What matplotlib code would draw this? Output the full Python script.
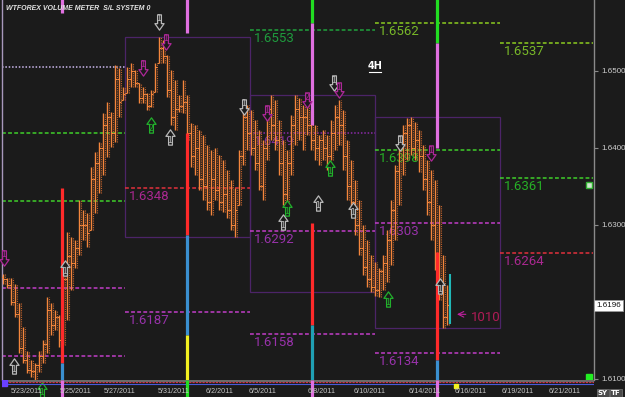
import numpy as np
import matplotlib
matplotlib.use("Agg")
import matplotlib.pyplot as plt
from matplotlib.path import Path
from matplotlib.patches import Rectangle
from matplotlib.transforms import blended_transform_factory


# 4H bars (x = bar index)
bar_hi = [1.6237, 1.6231, 1.6231, 1.6224, 1.6199, 1.6167, 1.6137, 1.6125, 1.6121, 1.6137,
          1.6150, 1.6206, 1.6199, 1.6189, 1.6183, 1.6237, 1.6291, 1.6284, 1.6280, 1.6332,
          1.6319, 1.6315, 1.6375, 1.6395, 1.6408, 1.6445, 1.6460, 1.6447, 1.6508, 1.6504,
          1.6479, 1.6505, 1.6510, 1.6501, 1.6484, 1.6479, 1.6471, 1.6475, 1.6510, 1.6544,
          1.6540, 1.6521, 1.6501, 1.6488, 1.6469, 1.6488, 1.6469, 1.6432, 1.6430, 1.6423,
          1.6417, 1.6404, 1.6397, 1.6400, 1.6391, 1.6384, 1.6371, 1.6358, 1.6348, 1.6397,
          1.6462, 1.6456, 1.6449, 1.6436, 1.6423, 1.6410, 1.6456, 1.6469, 1.6462, 1.6436,
          1.6410, 1.6397, 1.6443, 1.6469, 1.6465, 1.6456, 1.6462, 1.6449, 1.6430, 1.6417,
          1.6423, 1.6417, 1.6436, 1.6456, 1.6462, 1.6449, 1.6410, 1.6384, 1.6358, 1.6332,
          1.6300, 1.6280, 1.6261, 1.6252, 1.6244, 1.6261, 1.6293, 1.6332, 1.6378, 1.6410,
          1.6430, 1.6439, 1.6440, 1.6434, 1.6423, 1.6404, 1.6384, 1.6371, 1.6358, 1.6326,
          1.6261, 1.6222]
bar_lo = [1.6224, 1.6218, 1.6196, 1.6180, 1.6134, 1.6121, 1.6108, 1.6102, 1.6098, 1.6109,
          1.6121, 1.6134, 1.6157, 1.6163, 1.6141, 1.6144, 1.6176, 1.6215, 1.6244, 1.6261,
          1.6280, 1.6271, 1.6293, 1.6315, 1.6341, 1.6365, 1.6388, 1.6401, 1.6408, 1.6440,
          1.6462, 1.6471, 1.6479, 1.6479, 1.6458, 1.6458, 1.6449, 1.6453, 1.6473, 1.6510,
          1.6510, 1.6466, 1.6430, 1.6423, 1.6447, 1.6445, 1.6410, 1.6375, 1.6365, 1.6345,
          1.6332, 1.6319, 1.6313, 1.6332, 1.6319, 1.6317, 1.6309, 1.6293, 1.6284, 1.6326,
          1.6378, 1.6397, 1.6391, 1.6371, 1.6345, 1.6332, 1.6384, 1.6410, 1.6397, 1.6365,
          1.6326, 1.6315, 1.6365, 1.6404, 1.6410, 1.6397, 1.6417, 1.6397, 1.6384, 1.6378,
          1.6384, 1.6371, 1.6384, 1.6397, 1.6404, 1.6371, 1.6332, 1.6313, 1.6287, 1.6261,
          1.6235, 1.6219, 1.6213, 1.6208, 1.6206, 1.6215, 1.6226, 1.6248, 1.6280, 1.6326,
          1.6365, 1.6384, 1.6391, 1.6384, 1.6369, 1.6345, 1.6313, 1.6280, 1.6241, 1.6202,
          1.6166, 1.6170]
bar_close = [1.6230, 1.6222, 1.6200, 1.6185, 1.6140, 1.6125, 1.6112, 1.6110, 1.6118, 1.6130,
             1.6145, 1.6190, 1.6170, 1.6180, 1.6150, 1.6230, 1.6260, 1.6250, 1.6270, 1.6300,
             1.6300, 1.6290, 1.6360, 1.6380, 1.6400, 1.6430, 1.6440, 1.6420, 1.6490, 1.6460,
             1.6470, 1.6490, 1.6500, 1.6485, 1.6465, 1.6470, 1.6455, 1.6470, 1.6505, 1.6530,
             1.6520, 1.6475, 1.6440, 1.6450, 1.6455, 1.6460, 1.6420, 1.6390, 1.6400, 1.6360,
             1.6350, 1.6330, 1.6360, 1.6345, 1.6330, 1.6340, 1.6320, 1.6300, 1.6320, 1.6390,
             1.6440, 1.6420, 1.6400, 1.6380, 1.6350, 1.6400, 1.6450, 1.6430, 1.6410, 1.6380,
             1.6340, 1.6380, 1.6430, 1.6450, 1.6440, 1.6440, 1.6430, 1.6410, 1.6400, 1.6410,
             1.6400, 1.6390, 1.6420, 1.6440, 1.6430, 1.6390, 1.6350, 1.6330, 1.6300, 1.6270,
             1.6245, 1.6230, 1.6220, 1.6215, 1.6240, 1.6250, 1.6280, 1.6320, 1.6370, 1.6400,
             1.6420, 1.6430, 1.6400, 1.6410, 1.6390, 1.6360, 1.6330, 1.6300, 1.6260, 1.6220,
             1.6180, 1.6196]
first_open = 1.6233
last_price = 1.6196

# session boxes and level segments (bar-index units)
session_edges = [30.5, 61.75, 93.0, 124.25]
seg_edges = [-0.25, 30.5, 61.75, 93.0, 124.25, 147.5]

level_seg = [0, 0, 0, 0, 0, 1, 1, 2, 2, 2, 2, 3, 3, 3, 3, 4, 4, 4]
level_val = [1.6505, 1.6419, 1.6331, 1.6218, 1.6130,
             1.6348, 1.6187,
             1.6553, 1.6419, 1.6292, 1.6158,
             1.6562, 1.6398, 1.6303, 1.6134,
             1.6537, 1.6361, 1.6264]
level_kind = ["lav", "green", "green", "mag", "mag",
              "red", "mag",
              "dkgreen", "purple", "mag", "mag",
              "lime", "green", "mag", "mag",
              "lime", "green", "red"]
level_show = [False] * 5 + [True] * 13

# volume meter columns
ind_x = [14.75, 14.75, 14.75,
         46.0, 46.0, 46.0, 46.0,
         77.25, 77.25, 77.25, 77.25,
         108.5, 108.5, 108.5, 108.5]
ind_top = [1.6600, 1.6348, 1.6121,
           1.6600, 1.6419, 1.6287, 1.6157,
           1.6600, 1.6562, 1.6303, 1.6170,
           1.6600, 1.6537, 1.6265, 1.6125]
ind_bot = [1.6575, 1.6121, 1.6090,
           1.6549, 1.6287, 1.6157, 1.6090,
           1.6562, 1.6430, 1.6170, 1.6090,
           1.6537, 1.6400, 1.6125, 1.6090]
ind_kind = ["pink", "red", "blue",
            "pink", "red", "blue", "yellow",
            "green", "pink", "red", "teal",
            "green", "pink", "red", "blue"]
strip_x = [14.75, 46.0, 77.25, 108.5]
strip_kind = ["pink", "green", "pink", "pink"]

# signal arrows
arrow_x = [39, 40.75, 35, 37, 41.75, 60.25, 66, 76, 82.75, 84, 81.75, 71, 70, 78.75,
           87.5, 99.25, 107, 96.25, 109.25, 2.75, 9.75, 15.5, 0.25]
arrow_p = [1.6564, 1.6538, 1.6504, 1.6430, 1.6414, 1.6453, 1.6445, 1.6462, 1.6484, 1.6475,
           1.6374, 1.6322, 1.6304, 1.6329, 1.6320, 1.6406, 1.6393, 1.6204, 1.6221, 1.6117,
           1.6086, 1.6244, 1.6257]
arrow_dir = ["d", "d", "d", "u", "u", "d", "d", "d", "d", "d", "u", "u", "u", "u",
             "u", "d", "d", "u", "u", "u", "u", "u", "d"]
arrow_kind = ["gray", "mag", "mag", "green", "gray", "gray", "mag", "mag", "gray", "mag",
              "green", "green", "gray", "gray", "gray", "gray", "mag", "green", "gray", "gray",
              "green", "gray", "mag"]
arrow_num = ["1", "1", "1", "2", "1", "1", "1", "2", "1", "1", "1", "1", "1", "1",
             "1", "1", "1", "1", "1", "1", "1", "1", "1"]

date_x = [6, 18.25, 29.25, 42.75, 54.25, 65, 79.75, 91.75, 105.5, 117, 128.75, 140.5]
date_lbl = ["5/23/2011", "5/25/2011", "5/27/2011", "5/31/2011", "6/2/2011", "6/5/2011",
            "6/8/2011", "6/10/2011", "6/14/2011", "6/16/2011", "6/19/2011", "6/21/2011"]
price_ticks = [1.6100, 1.6300, 1.6400, 1.6500]

volume_tag = "1010"
tag_x = 117.0
tag_p = 1.6180
cyan_x = 111.75
cyan_range = [1.6171, 1.6237]

BG = "#1b1b1b"
ORANGE = "#f4863c"
ORANGE_DK = "#c0622c"
LINE_COL = {"lav": "#cbb8ee", "green": "#3fcf2a", "dkgreen": "#1fa23c", "lime": "#8ccc20",
            "red": "#e2303c", "mag": "#c23ec8", "purple": "#8a2aa8"}
LABEL_COL = {"lav": "#cbb8ee", "green": "#26b026", "dkgreen": "#1f9c3e", "lime": "#78b828",
             "red": "#aa2890", "mag": "#9832aa", "purple": "#82309a"}
IND_COL = {"pink": "#e070e0", "red": "#ff2a2a", "blue": "#3a8fd0", "yellow": "#f2f020",
           "green": "#22dd22", "teal": "#20a0b4"}
ARROW_COL = {"gray": "#b8b8b8", "mag": "#ad2898", "green": "#22b02c"}

W, H = 625, 397
fig = plt.figure(figsize=(W / 100, H / 100), dpi=100, facecolor=BG)
ax = fig.add_axes([2 / W, 17 / H, 592 / W, 380 / H], facecolor=BG)
ax.set_xlim(-0.25, 147.75)
ax.set_ylim(1.60987, 1.65922)

# bars
x = np.arange(len(bar_hi))
hi = np.array(bar_hi)
lo = np.array(bar_lo)
cl = np.array(bar_close)
op = np.clip(np.r_[first_open, cl[:-1]], lo, hi)
ax.vlines(x + 0.45, lo, hi, color=ORANGE_DK, lw=0.8, linestyles=(0, (1, 1)), zorder=3)
ax.vlines(x, lo, hi, color=ORANGE, lw=1.0, zorder=4)
ax.hlines(op, x - 0.45, x, color=ORANGE, lw=0.8, zorder=4)
ax.hlines(cl, x, x + 0.45, color=ORANGE, lw=0.8, zorder=4)

# session boxes from session high/low
for a, b in zip(session_edges[:-1], session_edges[1:]):
    m = (x > a) & (x < b)
    bh, bl = hi[m].max(), lo[m].min()
    ax.add_patch(Rectangle((a, bl), b - a, bh - bl, fill=False, ec="#4c2468", lw=0.9, zorder=1))

# levels
for s, v, k, show in zip(level_seg, level_val, level_kind, level_show):
    x0, x1 = seg_edges[s], seg_edges[s + 1]
    ls = (0, (1, 1.2)) if k in ("lav", "purple") else (0, (2.5, 1.5))
    ax.hlines(v, x0, x1, color=LINE_COL[k], lw=1.1, linestyles=ls, zorder=2)
    if show:
        ax.annotate(f"{v:.4f}", (x0, v), xytext=(3, -1.5), textcoords="offset points",
                    ha="left", va="top", fontsize=9.5, family="Roboto",
                    color=LABEL_COL[k], zorder=2)

# volume meter columns
for xi, t, b, k in zip(ind_x, ind_top, ind_bot, ind_kind):
    ax.vlines(xi, b, t, color=IND_COL[k], lw=2.3, zorder=5)

# arrows
up = [(-0.25, -1), (0.25, -1), (0.25, 0.15), (0.6, 0.15), (0, 1), (-0.6, 0.15),
      (-0.25, 0.15), (-0.25, -1)]
codes = [Path.MOVETO] + [Path.LINETO] * 6 + [Path.CLOSEPOLY]
up_path = Path(up, codes)
dn_path = Path([(px, -py) for px, py in up], codes)
for xi, p, d, k, n in zip(arrow_x, arrow_p, arrow_dir, arrow_kind, arrow_num):
    mk = up_path if d == "u" else dn_path
    ax.plot([xi], [p], marker=mk, ms=11, mfc=BG, mec=ARROW_COL[k], mew=0.9,
            ls="none", zorder=6, clip_on=False)
    ax.annotate(n, (xi, p), xytext=(0, -2.3 if d == "u" else 2.3), textcoords="offset points",
                ha="center", va="center", fontsize=5.5, color=ARROW_COL[k], zorder=7,
                annotation_clip=False)

# current volume tag
ax.vlines(cyan_x, cyan_range[0], cyan_range[1], color="#20b8b8", lw=1.5, zorder=5)
ax.annotate("", xy=(tag_x - 4.2, tag_p + 0.0004), xytext=(tag_x - 0.6, tag_p + 0.0004),
            arrowprops=dict(arrowstyle="->", color="#c020a0", lw=0.8), zorder=6)
ax.text(tag_x, tag_p, volume_tag, fontsize=9.5, family="Roboto",
        color="#b01c56", va="center", ha="left", zorder=6)

# small flags at right edge
ax.plot([146.6], [1.6352], marker="s", ms=4.5, mfc="#cfe8cf", mec="#30b030", mew=1, zorder=6)
ax.plot([146.6], [1.6102], marker="s", ms=5, mfc="#22ee22", mec="#22ee22", zorder=6)

# axes styling
for side in ("top", "bottom"):
    ax.spines[side].set_visible(False)
ax.spines["left"].set_color("#a898bc")
ax.spines["left"].set_linewidth(1.0)
ax.spines["right"].set_color("#8a8a8a")
ax.spines["right"].set_linewidth(1.0)
ax.set_xticks([])
ax.yaxis.tick_right()
ax.set_yticks(price_ticks)
ax.set_yticklabels([f"{t:.4f}" for t in price_ticks])
ax.tick_params(axis="y", direction="out", length=3, width=0.8, colors="#8a8a8a",
               labelcolor="#cfcfcf", labelsize=5.8, pad=2)
for lab in ax.get_yticklabels():
    lab.set_family("Liberation Sans")

tr = blended_transform_factory(ax.transAxes, ax.transData)
ax.text(1.004, last_price, f"{last_price:.4f}", transform=tr, ha="left", va="center",
        fontsize=5.8, family="Liberation Sans", color="#111111",
        bbox=dict(boxstyle="square,pad=0.25", fc="white", ec="#9a9a9a", lw=0.6), clip_on=False)

# bottom strip
sax = fig.add_axes([2 / W, 0, 592 / W, 17 / H], facecolor=BG)
sax.set_xlim(ax.get_xlim())
sax.set_ylim(0, 17)
sax.axis("off")
sax.axhline(16.4, color="#6a6a6a", lw=1.6)
sax.axhline(14.6, color="#d23040", lw=0.8, ls=(0, (2, 1)))
sax.axhline(13.2, color="#4a5ad8", lw=0.8)
sax.plot([0.3], [14.2], marker="s", ms=4, color="#6a40ff")
sax.plot([113.25], [11.2], marker="s", ms=3, color="#f2f020")
for xi, k in zip(strip_x, strip_kind):
    sax.vlines(xi, 0, 17, color=IND_COL[k], lw=2.3)
for xd, lbl in zip(date_x, date_lbl):
    sax.text(xd, 5.2, lbl, ha="center", va="center", fontsize=5.2,
             family="Liberation Sans", color="#c4c4c4")

# header texts
fig.text(6 / W, 1 - 5 / H, "WTFOREX VOLUME METER  S/L SYSTEM 0", ha="left", va="top",
         fontsize=5.0, family="Liberation Sans", style="italic", weight="bold", color="#e4e4e4")
fig.text(375 / W, 1 - 66 / H, "4H", ha="center", va="center", fontsize=7,
         weight="bold", color="white")
fig.add_artist(plt.Line2D([369 / W, 381 / W], [1 - 72 / H, 1 - 72 / H], color="white", lw=0.8))
fig.text(603 / W, 4 / H, "SY", ha="center", va="center", fontsize=5, weight="bold", color="white",
         bbox=dict(boxstyle="square,pad=0.2", fc="#4a4a4a", ec="#777777", lw=0.5))
fig.text(616 / W, 4 / H, "TF", ha="center", va="center", fontsize=5, weight="bold", color="white",
         bbox=dict(boxstyle="square,pad=0.2", fc="#4a4a4a", ec="#777777", lw=0.5))

fig.savefig("out.png", dpi=100, facecolor=BG)
